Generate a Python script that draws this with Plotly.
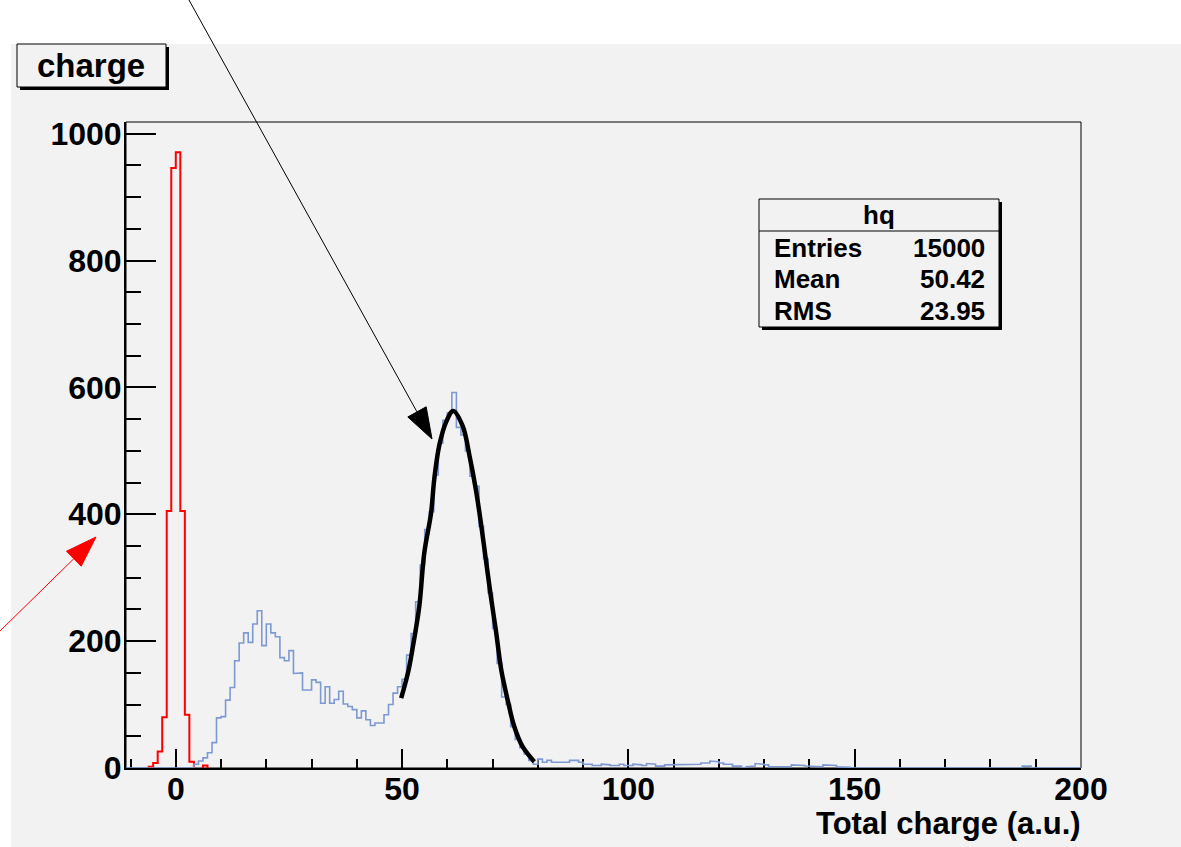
import numpy as np
import plotly.graph_objects as go

# ---------------- data ----------------
# pedestal histogram (red), 1-unit bins, lower edges
red_lo = [-6, -5, -4, -3, -2, -1, 0, 1, 2, 3, 6]
red_counts = [2, 8, 26, 80, 405, 946, 971, 405, 84, 10, 4]

# charge histogram "hq" (blue), 1-unit bins from x = -11 to 200
hq_min, hq_max = -11, 200
hq_first_filled = 4          # bins below this edge are empty
hq_counts = [
    6, 11, 16, 24, 40, 79,                      # 4-9
    81, 107, 127, 169, 197, 213, 198, 227, 248, 193,   # 10-19
    227, 213, 207, 174, 169, 185, 149, 150, 123, 123,  # 20-29
    139, 135, 102, 128, 102, 108, 121, 101, 97, 92,    # 30-39
    79, 90, 76, 67, 71, 71, 84, 100, 118, 128,         # 40-49
    140, 178, 212, 262, 320, 376, 404, 462, 512, 548,  # 50-59
    560, 592, 537, 525, 500, 460, 444, 381, 330, 276,  # 60-69
    220, 165, 112, 100, 65, 45, 32, 22, 12, 6,         # 70-79
    14, 9, 12, 9, 10, 9, 9, 12, 12, 9,                 # 80-89
    6, 6, 4, 4, 6, 5, 4, 4, 6, 4,                      # 90-99
    4, 6, 5, 4, 7, 6, 3, 3, 5, 5,                      # 100-109
    6, 6, 6, 6, 6, 6, 8, 8, 11, 10,                    # 110-119
    8, 6, 6, 3, 3, 0, 2, 3, 7, 6,                      # 120-129
    5, 2, 2, 2, 1, 2, 5, 5, 4, 3,                      # 130-139
    3, 3, 2, 5, 5, 4, 2, 2, 1, 0,                      # 140-149
    0, 1, 0, 0, 1, 1, 0, 0, 1, 0,                      # 150-159
    0, 0, 0, 0, 1, 1, 0, 0, 0, 1,                      # 160-169
    0, 0, 0, 0, 0, 0, 0, 0, 0, 0,                      # 170-179
    1, 1, 1, 0, 0, 0, 0, 3, 3, 0,                      # 180-189
    0, 0, 0, 0, 1, 0, 0, 0, 0, 0,                      # 190-199
]

# gaussian fit over the signal peak (black)
fit_x = [49.8, 51.3, 52.4, 53.8, 54.9, 56.4, 57.1, 58.2, 59.7, 61.3, 63.4,
         64.9, 66.3, 67.4, 68.5, 69.6, 70.8, 71.9, 73.3, 74.8, 76.6, 79.2]
fit_y = [110, 150, 192, 255, 339, 402, 455, 508, 545, 563, 539,
         492, 439, 387, 329, 271, 213, 155, 108, 65, 34, 10]

stats_title = "hq"
stats_labels = ["Entries", "Mean", "RMS"]
stats_values = ["15000", "50.42", "23.95"]

x_ticks = [0, 50, 100, 150, 200]
y_ticks = [0, 200, 400, 600, 800, 1000]

# ---------------- helpers ----------------
W, H = 1181, 847
ML, MR, MT, MB = 126, 100, 122, 79
PW, PH = W - ML - MR, H - MT - MB
FONT = "Liberation Sans"
BG = "#f2f2f2"


def px(x):
    return (x - ML) / PW


def py(y):
    return (H - MB - y) / PH


def step_path(lo_edges, counts, width=1.0, keep_zero=True):
    """Outline of a histogram as a step polyline (None breaks gaps)."""
    xs, ys = [], []
    prev_hi = None
    for lo, c in zip(lo_edges, counts):
        if not keep_zero and c == 0:
            continue
        hi = lo + width
        if prev_hi is None or abs(prev_hi - lo) > 1e-9:
            if prev_hi is not None:
                xs += [prev_hi, None]
                ys += [0, None]
            xs.append(lo)
            ys.append(0)
        xs += [lo, hi]
        ys += [c, c]
        prev_hi = hi
    xs.append(prev_hi)
    ys.append(0)
    return xs, ys


hq_edges = list(range(hq_min, hq_max))
hq_full = [0] * (hq_first_filled - hq_min) + hq_counts
hx, hy = step_path(hq_edges, hq_full)
rx, ry = step_path(red_lo, red_counts, keep_zero=False)

fig = go.Figure()
fig.add_trace(go.Scatter(x=rx, y=ry, mode="lines", line=dict(color="#ff0000", width=2),
                         cliponaxis=False, hoverinfo="skip", connectgaps=False))
fig.add_trace(go.Scatter(x=hx, y=hy, mode="lines", line=dict(color="#7d99d1", width=1.6),
                         cliponaxis=False, hoverinfo="skip"))
fig.add_trace(go.Scatter(x=fit_x, y=fit_y, mode="lines", line=dict(color="black", width=4.5, shape="spline"),
                         cliponaxis=False, hoverinfo="skip"))

shapes = []
# white margin strips around the canvas
shapes.append(dict(type="rect", xref="paper", yref="paper", x0=px(0), x1=px(11), y0=py(H), y1=py(0),
                   fillcolor="white", line=dict(width=0), layer="below"))
shapes.append(dict(type="rect", xref="paper", yref="paper", x0=px(0), x1=px(W), y0=py(44), y1=py(0),
                   fillcolor="white", line=dict(width=0), layer="below"))
# frame
shapes.append(dict(type="rect", xref="paper", yref="paper", x0=0, x1=1, y0=0, y1=1,
                   line=dict(color="black", width=1), layer="below"))


def box(x0, y0, x1, y1, shadow=3):
    shapes.append(dict(type="rect", xref="paper", yref="paper",
                       x0=px(x0 + shadow), x1=px(x1 + shadow), y0=py(y1 + shadow), y1=py(y0 + shadow),
                       fillcolor="black", line=dict(width=0), layer="above"))
    shapes.append(dict(type="rect", xref="paper", yref="paper",
                       x0=px(x0), x1=px(x1), y0=py(y1), y1=py(y0),
                       fillcolor=BG, line=dict(color="black", width=1), layer="above"))


# title box
box(17, 44, 166, 87)
# statistics box
box(759, 199, 999, 327)
shapes.append(dict(type="line", xref="paper", yref="paper", x0=px(759), x1=px(999), y0=py(231), y1=py(231),
                   line=dict(color="black", width=1), layer="above"))


def arrow(tail, tip, color, head_len=31, head_w=21):
    tx, ty = tail
    hx_, hy_ = tip
    d = np.array([hx_ - tx, hy_ - ty], dtype=float)
    L = np.hypot(*d)
    u = d / L
    n = np.array([-u[1], u[0]])
    base = np.array(tip) - u * head_len
    p1 = base + n * head_w / 2
    p2 = base - n * head_w / 2
    shapes.append(dict(type="line", xref="paper", yref="paper",
                       x0=px(tx), y0=py(ty), x1=px(base[0]), y1=py(base[1]),
                       line=dict(color=color, width=1), layer="above"))
    path = "M {} {} L {} {} L {} {} Z".format(px(hx_), py(hy_), px(p1[0]), py(p1[1]), px(p2[0]), py(p2[1]))
    shapes.append(dict(type="path", xref="paper", yref="paper", path=path,
                       fillcolor=color, line=dict(color=color, width=1), layer="above"))


arrow((189, 0), (432, 439), "black")
arrow((0, 631), (96, 537), "#ff0000")

annotations = []


def text(x, y, s, size, xanchor="center"):
    annotations.append(dict(x=px(x), y=py(y), xref="paper", yref="paper", text=s, showarrow=False,
                            xanchor=xanchor, yanchor="middle",
                            font=dict(family=FONT, size=size, color="black", weight="bold")))


text(91, 65, "charge", 33)
text(879, 215, stats_title, 26)
for i, (lab, val) in enumerate(zip(stats_labels, stats_values)):
    yy = 248 + i * 31.3
    text(772, yy, lab, 26, "left")
    text(987, yy, val, 26, "right")
text(1083, 823, "Total charge (a.u.)", 31, "right")

tickfont = dict(family=FONT, size=32, color="black", weight="bold")
fig.update_layout(
    width=W, height=H,
    margin=dict(l=ML, r=MR, t=MT, b=MB, pad=0),
    paper_bgcolor=BG, plot_bgcolor=BG,
    showlegend=False,
    shapes=shapes, annotations=annotations,
    xaxis=dict(range=[hq_min, hq_max], tickvals=x_ticks, ticks="inside", ticklen=19, tickwidth=1.5,
               tickcolor="black", showline=True, linecolor="black", linewidth=2, showgrid=False,
               zeroline=False, tickfont=tickfont, ticklabelstandoff=-8, layer="below traces",
               minor=dict(dtick=10, tick0=0, ticks="inside", ticklen=9, tickwidth=1.5, tickcolor="black",
                          showgrid=False)),
    yaxis=dict(range=[0, 1018.5], tickvals=y_ticks, ticks="inside", ticklen=30, tickwidth=1.5,
               tickcolor="black", showline=True, linecolor="black", linewidth=2, showgrid=False,
               zeroline=False, tickfont=tickfont, ticklabelstandoff=-4, layer="below traces",
               minor=dict(dtick=50, tick0=0, ticks="inside", ticklen=15, tickwidth=1.5, tickcolor="black",
                          showgrid=False)),
)

fig.write_html("out.html")
